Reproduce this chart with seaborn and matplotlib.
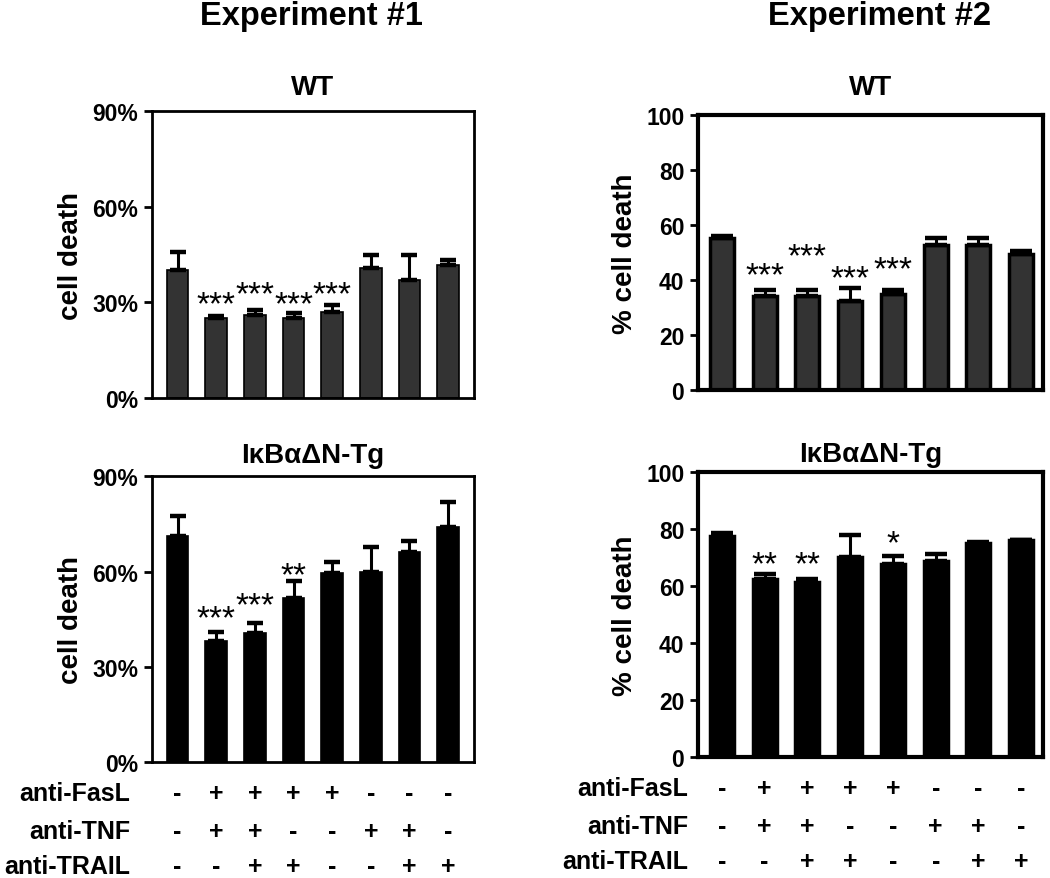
import numpy as np
import pandas as pd
import matplotlib
matplotlib.use("Agg")
import matplotlib.pyplot as plt
import matplotlib.transforms as mtransforms
from matplotlib.ticker import PercentFormatter
import seaborn as sns

# treatment table (one entry per bar)
conditions = ["c1", "c2", "c3", "c4", "c5", "c6", "c7", "c8"]
anti_fasl = ["-", "+", "+", "+", "+", "-", "-", "-"]
anti_tnf = ["-", "+", "+", "-", "-", "+", "+", "-"]
anti_trail = ["-", "-", "+", "+", "-", "-", "+", "+"]
row_names = ["anti-FasL", "anti-TNF", "anti-TRAIL"]

# Experiment #1 (% cell death)
exp1_wt = [40.1, 25.0, 26.1, 25.0, 26.9, 40.7, 37.1, 41.7]
exp1_wt_err = [5.8, 0.7, 1.6, 1.6, 2.4, 4.2, 7.9, 1.7]
exp1_tg = [71.1, 38.0, 40.7, 51.8, 59.4, 59.7, 66.2, 73.9]
exp1_tg_err = [6.3, 2.8, 3.2, 5.3, 3.7, 8.1, 3.5, 8.0]

# Experiment #2 (% cell death)
exp2_wt = [55.3, 34.3, 34.3, 32.5, 35.0, 52.6, 52.6, 49.5]
exp2_wt_err = [0.8, 2.1, 2.1, 4.7, 1.5, 2.8, 2.8, 1.2]
exp2_tg = [77.5, 62.6, 61.4, 70.2, 67.6, 68.8, 75.2, 76.2]
exp2_tg_err = [1.1, 1.7, 1.2, 7.8, 2.9, 2.3, 0.4, 0.0]

# significance marks
exp1_wt_stars = ["", "***", "***", "***", "***", "", "", ""]
exp1_wt_star_y = [0, 26.5, 29.6, 26.5, 29.6, 0, 0, 0]
exp1_tg_stars = ["", "***", "***", "**", "", "", "", ""]
exp1_tg_star_y = [0, 42.5, 46.6, 56.0, 0, 0, 0, 0]
exp2_wt_stars = ["", "***", "***", "***", "***", "", "", ""]
exp2_wt_star_y = [0, 38.5, 45.3, 37.5, 40.5, 0, 0, 0]
exp2_tg_stars = ["", "**", "**", "", "*", "", "", ""]
exp2_tg_star_y = [0, 64.4, 64.4, 0, 72.0, 0, 0, 0]

sns.set_theme(style="ticks")
plt.rcParams["font.family"] = ["Liberation Sans", "DejaVu Sans"]
plt.rcParams["font.weight"] = "bold"
for key in ["text.color", "axes.labelcolor", "xtick.color", "ytick.color",
            "axes.edgecolor"]:
    plt.rcParams[key] = "black"

fig = plt.figure(figsize=(10.5, 8.79), dpi=100)


def panel(rect, vals, errs, stars, star_y, color, title, pad,
          ylim, ticks, pct, ylabel, lw, spine_w, cap, star_fs):
    ax = fig.add_axes(rect)
    df = pd.DataFrame({"cond": conditions, "val": vals})
    sns.barplot(data=df, x="cond", y="val", color=color, saturation=1,
                edgecolor="black", linewidth=lw, width=0.56,
                errorbar=None, ax=ax)
    x = np.arange(len(conditions))
    ax.errorbar(x, vals, yerr=[np.zeros(len(errs)), errs], fmt="none",
                ecolor="black", elinewidth=2.2, capsize=cap, capthick=3.2,
                zorder=1)
    for xi, s, yy in zip(x, stars, star_y):
        if s:
            ax.text(xi, yy, s, ha="center", va="baseline",
                    fontsize=star_fs, fontweight="normal")
    ax.set_ylim(*ylim)
    ax.set_yticks(ticks)
    if pct:
        ax.yaxis.set_major_formatter(PercentFormatter(xmax=100, decimals=0))
    ax.set_xticks([])
    ax.set_xlabel("")
    ax.set_ylabel(ylabel, fontsize=20, fontweight="bold", labelpad=6)
    ax.set_title(title, fontsize=20, fontweight="bold", pad=pad)
    for sp in ax.spines.values():
        sp.set_visible(True)
        sp.set_linewidth(spine_w)
        sp.set_color("black")
    ax.tick_params(axis="y", labelsize=16.5, width=2, length=6,
                   direction="out", pad=4)
    for t in ax.get_yticklabels():
        t.set_fontweight("bold")
    return ax


def sign_table(ax, label_x):
    trans = mtransforms.blended_transform_factory(ax.transData, ax.transAxes)
    rows = [anti_fasl, anti_tnf, anti_trail]
    ys = [-0.108, -0.243, -0.364]
    for name, signs, yy in zip(row_names, rows, ys):
        ax.text(label_x, yy, name, transform=ax.transAxes, ha="right",
                va="center", fontsize=18, fontweight="bold")
        for xi, s in enumerate(signs):
            ax.text(xi, yy, s, transform=trans, ha="center", va="center",
                    fontsize=18, fontweight="bold")


ax1 = panel([0.145, 0.546, 0.306, 0.3265], exp1_wt, exp1_wt_err,
            exp1_wt_stars, exp1_wt_star_y, "#333333", "WT", 12,
            (0, 90), [0, 30, 60, 90], True, "cell death", 1.2, 2, 6, 24)
ax2 = panel([0.145, 0.132, 0.306, 0.325], exp1_tg, exp1_tg_err,
            exp1_tg_stars, exp1_tg_star_y, "black", "I\u03baB\u03b1\u0394N-Tg", 10,
            (0, 90), [0, 30, 60, 90], True, "cell death", 1.2, 2, 6, 24)
ax3 = panel([0.665, 0.555, 0.328, 0.313], exp2_wt, exp2_wt_err,
            exp2_wt_stars, exp2_wt_star_y, "#333333", "WT", 15,
            (0, 100), [0, 20, 40, 60, 80, 100], False, "% cell death",
            2.5, 3, 8, 24)
ax4 = panel([0.665, 0.1377, 0.328, 0.324], exp2_tg, exp2_tg_err,
            exp2_tg_stars, exp2_tg_star_y, "black", "I\u03baB\u03b1\u0394N-Tg", 8,
            (0, 100), [0, 20, 40, 60, 80, 100], False, "% cell death",
            2.5, 3, 8, 24)
for ax in (ax3, ax4):
    ax.set_xlim(-0.55, 7.5)

sign_table(ax2, -0.068)
sign_table(ax4, -0.029)

fig.text(311 / 1050, 1 - 16 / 879, "Experiment #1", ha="center",
         va="center", fontsize=23.5, fontweight="bold")
fig.text(879 / 1050, 1 - 16 / 879, "Experiment #2", ha="center",
         va="center", fontsize=23.5, fontweight="bold")

fig.savefig("out.png", dpi=100)
